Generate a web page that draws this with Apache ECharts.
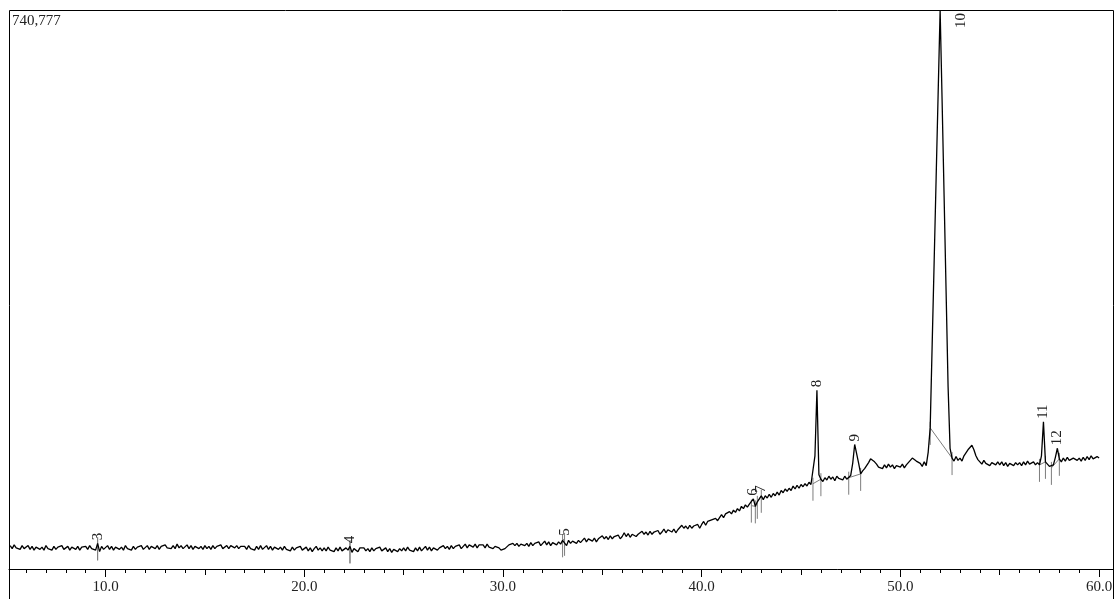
<!DOCTYPE html>
<html>
<head>
<meta charset="utf-8">
<script src="https://cdn.jsdelivr.net/npm/echarts@6/dist/echarts.min.js"></script>
<style>
  html, body { margin: 0; padding: 0; background: #fff; }
  #main { width: 1118px; height: 599px; }
</style>
</head>
<body>
<div id="main"></div>
<script>
// detector signal, one reading every 0.1 min from 5.2 min, in thousands of counts
const traceStart = 5.2;
const traceStep = 0.1;
const signal = [
  31, 27, 32, 28, 30, 26, 31, 27,                                   // 5.2 - 5.9
  26, 31, 26, 30, 25, 29, 31, 26, 29, 25,                           // 6
  31, 27, 29, 25, 30, 26, 29, 27, 31, 26,
  26, 30, 25, 29, 31, 26, 30, 25, 29, 30,
  30, 26, 31, 27, 29, 25, 34, 23, 30, 26,                           // 9
  25, 31, 26, 30, 25, 29, 31, 26, 29, 25,                           // 10
  31, 27, 29, 25, 30, 26, 29, 27, 31, 26,
  27, 31, 26, 30, 32, 27, 31, 26, 30, 31,
  32, 28, 30, 27, 31, 27, 33, 28, 31, 27,
  27, 32, 27, 31, 26, 30, 32, 27, 30, 26,
  31, 27, 30, 26, 31, 27, 30, 28, 32, 27,                           // 15
  28, 31, 27, 31, 33, 28, 31, 27, 30, 32,
  30, 26, 31, 27, 29, 25, 30, 26, 31, 26,
  26, 31, 26, 30, 25, 29, 31, 26, 29, 25,
  30, 26, 28, 24, 29, 25, 28, 26, 30, 25,
  25, 29, 24, 28, 23, 27, 30, 25, 28, 24,                           // 20
  28, 24, 29, 25, 27, 23, 28, 24, 29, 24,
  24, 28, 25, 30, 22, 27, 29, 23, 28, 27,
  28, 24, 27, 23, 28, 24, 27, 25, 29, 24,
  24, 28, 23, 27, 22, 26, 28, 23, 27, 24,
  28, 24, 29, 25, 27, 23, 28, 24, 29, 24,                           // 25
  25, 30, 25, 29, 24, 28, 30, 25, 28, 26,
  31, 27, 30, 26, 31, 27, 30, 28, 32, 27,
  29, 33, 28, 32, 34, 29, 33, 28, 32, 33,
  32, 28, 33, 29, 31, 27, 30, 28, 28, 25,
  24, 27, 28, 32, 30, 34, 31, 34, 30, 33,                           // 30
  35, 31, 34, 30, 35, 31, 34, 32, 36, 31,
  33, 37, 32, 36, 31, 35, 37, 32, 36, 33,
  38, 40, 31, 38, 34, 37, 39, 34, 38, 35,
  37, 41, 36, 40, 42, 37, 41, 36, 40, 42,
  44, 40, 43, 39, 44, 40, 43, 41, 45, 40,                           // 35
  43, 48, 43, 47, 42, 46, 48, 43, 46, 44,
  50, 46, 49, 45, 50, 46, 49, 47, 51, 46,
  49, 53, 48, 52, 54, 49, 53, 48, 52, 53,
  58, 54, 57, 53, 58, 54, 57, 55, 59, 54,
  59, 63, 58, 63, 61, 65, 63, 67, 64, 68,                           // 40
  72, 68, 73, 72, 76, 73, 78, 75, 80, 77,
  83, 80, 85, 82, 86, 84, 93, 83, 89, 88,
  97, 92, 97, 94, 99, 95, 100, 97, 102, 98,
  104, 101, 106, 103, 107, 104, 110, 106, 111, 107,
  112, 109, 113, 110, 115, 112, 113, 150, 237, 125,                 // 45
  119, 116, 121, 118, 123, 119, 122, 117, 123, 120,
  122, 118, 123, 119, 121, 124, 140, 165, 163, 140,
  126, 130, 133, 137, 141, 146, 148, 142, 139, 135,
  137, 133, 138, 134, 139, 135, 138, 133, 137, 139,
  135, 139, 134, 138, 141, 143, 147, 148, 143, 141,                 // 50
  140, 136, 142, 137, 155, 187, 298, 408, 519, 630,
  740.777, 620, 494, 368, 242, 160, 147, 143, 149, 144,
  147, 143, 150, 152, 158, 161, 164, 158, 150, 145,
  143, 139, 144, 140, 142, 137, 141, 143, 138, 142,
  138, 142, 137, 141, 136, 140, 142, 137, 141, 138,                 // 55
  141, 137, 142, 138, 143, 139, 137, 142, 138, 141,
  138, 150, 195, 142, 140, 136, 134, 138, 148, 160,
  146, 142, 147, 143, 148, 144, 142, 147, 149, 144,
  147, 143, 148, 144, 149, 145, 150, 146, 144, 149,
  147                                                               // 60
];
const yMax = 740777;

// integrated peaks: number, apex time, start and end of the peak (min)
const peakNames = ['3', '4', '5', '6', '7', '8', '9', '10', '11', '12'];
const peakTimes = [9.6, 22.3, 33.1, 42.6, 43.0, 45.8, 47.7, 52.0, 57.2, 57.9];
const peakStarts = [9.6, 22.3, 33.0, 42.5, 42.8, 45.6, 47.4, 51.5, 57.0, 57.6];
const peakEnds = [9.6, 22.3, 33.1, 42.7, 43.0, 46.0, 48.0, 52.6, 57.3, 58.0];

const majorTicks = [10, 20, 30, 40, 50, 60];
const midTicks = [15, 25, 35, 45, 55];
const minorTicks = [];
for (let t = 6; t <= 60; t++) minorTicks.push(t);

const xMin = 5.14;
const xMax = 60.7;
const serif = '"Liberation Serif", "Times New Roman", serif';

function valueAt(t) {
  const i = Math.round((t - traceStart) / traceStep);
  return Math.round(signal[i] * 1000);
}

const traceData = signal.map(function (v, i) {
  return [+(traceStart + i * traceStep).toFixed(1), Math.round(v * 1000)];
});

const peakData = peakNames.map(function (n, i) {
  return [peakTimes[i], valueAt(peakTimes[i]), peakStarts[i], valueAt(peakStarts[i]), peakEnds[i], valueAt(peakEnds[i])];
});

function renderPeak(params, api) {
  const top = params.coordSys.y;
  const apex = api.coord([api.value(0), api.value(1)]);
  const s = api.coord([api.value(2), api.value(3)]);
  const e = api.coord([api.value(4), api.value(5)]);
  const name = peakNames[params.dataIndex];
  const w = name.length * 7.5;
  let lx = apex[0];
  let ly = apex[1] - 3;
  if (ly - w < top + 2) {
    // apex runs off the top: put the number beside it
    lx = apex[0] + 21;
    ly = top + 3 + w;
  }
  const mark = { stroke: '#7d7d7d', lineWidth: 1 };
  const children = [
    { type: 'line', shape: { x1: s[0], y1: s[1] - 6, x2: s[0], y2: s[1] + 17 }, style: mark },
    { type: 'line', shape: { x1: e[0], y1: e[1] - 6, x2: e[0], y2: e[1] + 17 }, style: mark },
    { type: 'line', shape: { x1: s[0], y1: s[1], x2: e[0], y2: e[1] }, style: mark },
    {
      type: 'text', x: lx, y: ly, rotation: Math.PI / 2,
      style: { text: name, fill: '#222', fontSize: 15, fontFamily: serif, align: 'left', verticalAlign: 'middle' }
    }
  ];
  return { type: 'group', children: children };
}

const chart = echarts.init(document.getElementById('main'));

const option = {
  animation: false,
  backgroundColor: '#fff',
  grid: { left: 9, right: 5, top: 10, bottom: 30 },
  graphic: [{
    type: 'rect',
    shape: { x: 9.5, y: 10.5, width: 1104, height: 600 },
    style: { fill: 'none', stroke: '#000', lineWidth: 1 },
    silent: true
  }],
  xAxis: [{
    type: 'value', min: xMin, max: xMax, position: 'bottom',
    axisLine: { show: true, lineStyle: { color: '#000', width: 1 } },
    axisTick: { show: true, customValues: majorTicks, length: 8, lineStyle: { color: '#000' } },
    axisLabel: {
      customValues: majorTicks, margin: 11, color: '#222', fontSize: 15, fontFamily: serif,
      formatter: function (v) { return v.toFixed(1); }
    },
    splitLine: { show: false }
  }, {
    type: 'value', min: xMin, max: xMax, position: 'bottom',
    axisLine: { show: false },
    axisTick: { show: true, customValues: midTicks, length: 6, lineStyle: { color: '#000' } },
    axisLabel: { show: false },
    splitLine: { show: false }
  }, {
    type: 'value', min: xMin, max: xMax, position: 'bottom',
    axisLine: { show: false },
    axisTick: { show: true, customValues: minorTicks, length: 4, lineStyle: { color: '#000' } },
    axisLabel: { show: false },
    splitLine: { show: false }
  }],
  yAxis: {
    type: 'value', min: 0, max: yMax,
    axisLine: { show: false },
    axisTick: { show: false },
    splitLine: { show: false },
    axisLabel: {
      inside: true, margin: 3, customValues: [yMax], verticalAlign: 'top', padding: [4, 0, 0, 0],
      color: '#222', fontSize: 15, fontFamily: serif,
      formatter: function (v) { return v.toLocaleString('en-US'); }
    }
  },
  series: [{
    type: 'line',
    data: traceData,
    showSymbol: false,
    symbol: 'none',
    lineStyle: { color: '#000', width: 1.3 },
    z: 3
  }, {
    type: 'custom',
    data: peakData,
    renderItem: renderPeak,
    z: 2
  }]
};

chart.setOption(option);
</script>
</body>
</html>
